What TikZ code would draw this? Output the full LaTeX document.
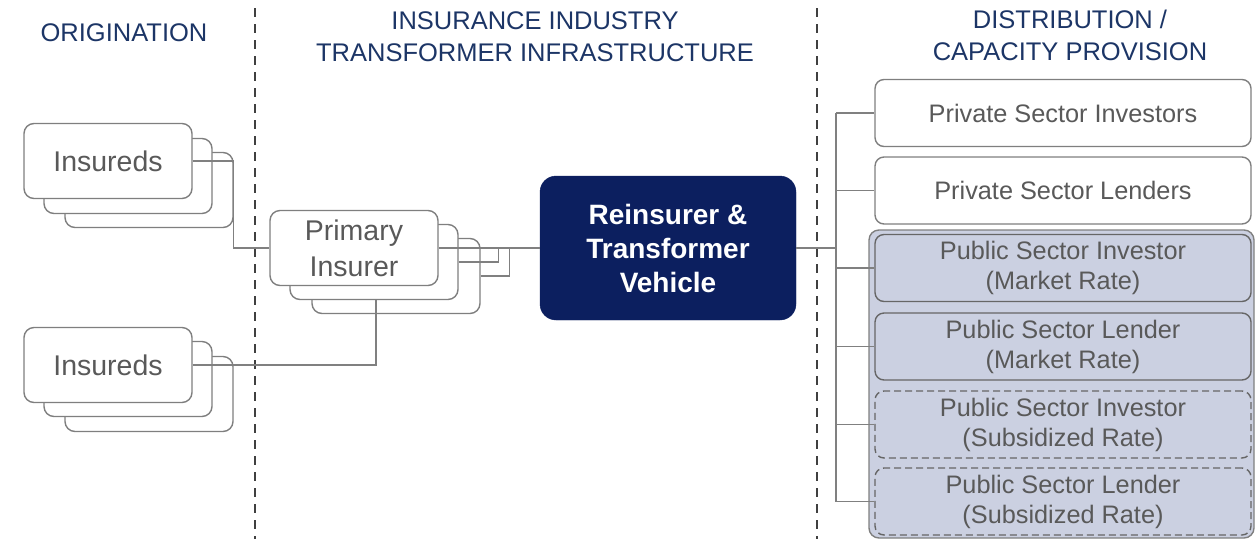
\documentclass[tikz,border=0pt]{standalone}
\usepackage{fontspec}
\setmainfont{Liberation Sans}
\definecolor{navy}{HTML}{0C1F5F}
\definecolor{headblue}{HTML}{1C3566}
\definecolor{txtgrey}{HTML}{595959}
\definecolor{edgegrey}{HTML}{7F7F7F}
\definecolor{pubfill}{HTML}{CBD0E1}

\begin{document}
\begin{tikzpicture}[x=1pt,y=-1pt,
	head/.style={text=headblue,font=\fontsize{25.5}{32}\selectfont,align=center},
	card/.style={draw=edgegrey,line width=1.4pt,rounded corners=10pt,fill=white,text=txtgrey,
		font=\fontsize{28.5}{36}\selectfont,align=center,minimum width=168pt,minimum height=75pt,inner sep=0pt},
	capbox/.style={draw=edgegrey,line width=1.4pt,rounded corners=9pt,fill=white,text=txtgrey,
		font=\fontsize{25.3}{30}\selectfont,align=center,minimum width=376pt,minimum height=67pt,inner sep=0pt},
	pub/.style={capbox,fill=pubfill,draw=edgegrey!80!black},
	subs/.style={dash pattern=on 7pt off 4pt},
	conn/.style={draw=gray,line width=1.1pt},
	sep/.style={draw=black!75,line width=2.2pt,dash pattern=on 9pt off 7pt}]
	\useasboundingbox (0,0) rectangle (1255,539);

	% headers
	\node[head] (hOrig) at (124,33) {ORIGINATION};
	\node[head] (hInfra) at (535,37) {INSURANCE INDUSTRY\\TRANSFORMER INFRASTRUCTURE};
	\node[head] (hDist) at (1070,35) {DISTRIBUTION /\\CAPACITY PROVISION};

	\draw[sep] (255,8) -- (255,539);
	\draw[sep] (817,8) -- (817,539);

	% insureds (two stacks)
	\node[card] (insAc) at (149,190) {};
	\node[card] (insAb) at (128,176) {};
	\node[card] (insAa) at (108,161) {Insureds};
	\node[card] (insBc) at (149,394) {};
	\node[card] (insBb) at (128,379) {};
	\node[card] (insBa) at (108,365) {Insureds};

	% primary insurer stack
	\node[card] (primC) at (396,276) {};
	\node[card] (primB) at (374,262) {};
	\node[card] (primA) at (354,248) {Primary\\Insurer};

	% transformer vehicle
	\node[draw=navy,fill=navy,rounded corners=16pt,minimum width=256pt,minimum height=144pt,
		text=white,font=\bfseries\fontsize{28}{34}\selectfont,align=center] (rtv) at (668,248)
		{Reinsurer \&\\Transformer\\Vehicle};

	% capacity providers
	\draw[draw=edgegrey,line width=1.4pt,fill=pubfill,rounded corners=10pt] (869,230) rectangle (1254,538);
	\node[capbox] (privInv) at (1063,113) {Private Sector Investors};
	\node[capbox] (privLend) at (1063,190.5) {Private Sector Lenders};
	\node[pub] (pubInvM) at (1063,268) {Public Sector Investor\\(Market Rate)};
	\node[pub] (pubLendM) at (1063,346.5) {Public Sector Lender\\(Market Rate)};
	\node[pub,subs] (pubInvS) at (1063,424.5) {Public Sector Investor\\(Subsidized Rate)};
	\node[pub,subs] (pubLendS) at (1063,501.5) {Public Sector Lender\\(Subsidized Rate)};

	% connectors left
	\draw[conn] (insAa.east) -- (insAa.east -| insAc.east) |- (primA.west);
	\draw[conn] (insBa.east) -| ([xshift=2pt]primB.south);
	\draw[conn] (primA.east) -- (rtv.west);
	\draw[conn] (primB.east) -| ([xshift=-41pt]rtv.west);
	\draw[conn] (primC.east) -| ([xshift=-30pt]rtv.west);

	% connectors right
	\coordinate (bus) at (836,248);
	\draw[conn] (rtv.east) -- (bus);
	\draw[conn] (bus |- privInv.west) -- (bus |- pubLendS.west);
	\foreach \n in {privInv,privLend,pubInvM,pubLendM,pubInvS,pubLendS}
		\draw[conn] (bus |- \n.west) -- (\n.west);
\end{tikzpicture}
\end{document}
